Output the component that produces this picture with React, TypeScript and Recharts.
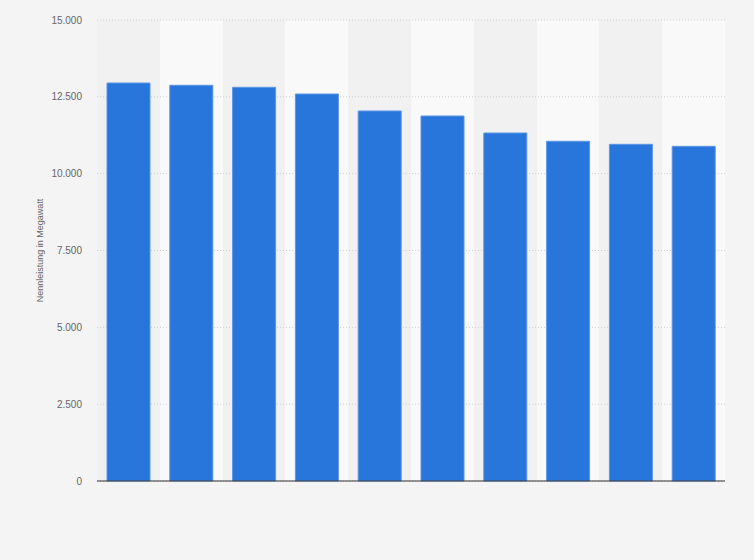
import { Bar, BarChart, CartesianGrid, XAxis, YAxis } from "recharts";

const ranks = ["1", "2", "3", "4", "5", "6", "7", "8", "9", "10"];
const capacityMW = [12950, 12875, 12810, 12592, 12039, 11876, 11323, 11053, 10955, 10890];
const yTicks = [0, 2500, 5000, 7500, 10000, 12500, 15000];

const data = ranks.map((rank, i) => ({ rank, value: capacityMW[i] }));

const fmt = (v: number) => String(v).replace(/\B(?=(\d{3})+(?!\d))/g, ".");

const text = { fill: "#666", fontSize: 10, fontFamily: "'Liberation Sans', Arial, sans-serif" };

// left edges of each category band, for the alternating column stripes
const bandStarts = ({ xAxis, offset }: any) => {
  const s = xAxis?.scale;
  if (typeof s === "function") return ranks.map((r) => s(r));
  if (!offset) return [];
  const step = offset.width / ranks.length;
  return ranks.map((_, i) => offset.left + i * step);
};

export default function App() {
  return (
    <div style={{ position: "absolute", left: 0, top: 0, width: 754, height: 560, background: "#f4f4f4" }}>
      <BarChart
        width={754}
        height={560}
        data={data}
        margin={{ top: 20, right: 29, left: 37, bottom: 78 }}
      >
        <CartesianGrid
          vertical={() => null}
          stroke="#cfcfcf"
          strokeDasharray="1 2"
          verticalCoordinatesGenerator={bandStarts}
          verticalFill={["#f1f1f1", "#f9f9f9"]}
          fillOpacity={1}
        />
        <XAxis
          dataKey="rank"
          tick={false}
          tickLine={false}
          height={1}
          axisLine={{ stroke: "#333", strokeWidth: 1 }}
        />
        <YAxis
          width={60}
          domain={[0, 15000]}
          ticks={yTicks}
          tickFormatter={fmt}
          axisLine={false}
          tickLine={false}
          tickMargin={9}
          tick={text}
          label={{
            value: "Nennleistung in Megawatt",
            angle: -90,
            position: "insideLeft",
            offset: 3,
            style: { ...text, fontSize: 9, textAnchor: "middle" },
          }}
        />
        <Bar
          dataKey="value"
          barSize={43}
          fill="#2875db"
          stroke="#5c95e4"
          strokeWidth={1}
          isAnimationActive={false}
        />
      </BarChart>
    </div>
  );
}
